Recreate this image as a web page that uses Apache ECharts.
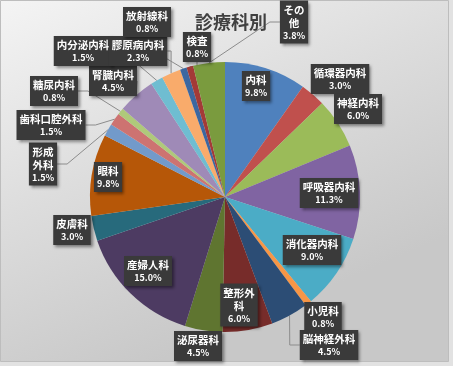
<!DOCTYPE html>
<html><head><meta charset="utf-8">
<script src="https://cdn.jsdelivr.net/npm/echarts@6/dist/echarts.min.js"></script>
<style>html,body{margin:0;padding:0;background:#e2e2e2;} #c{width:453px;height:366px;}</style>
</head><body><div id="c"></div>
<script>
// Data
const categories = ['内科','循環器内科','神経内科','呼吸器内科','消化器内科','小児科','脳神経外科','整形外科','泌尿器科','産婦人科','皮膚科','眼科','形成外科','歯科口腔外科','糖尿内科','腎臓内科','内分泌内科','膠原病内科','放射線科','検査','その他'];
const shares = [9.8,3.0,6.0,11.3,9.0,0.8,4.5,6.0,4.5,15.0,3.0,9.8,1.5,1.5,0.8,4.5,1.5,2.3,0.8,0.8,3.8];
const labelTexts = ['内科','循環器内科','神経内科','呼吸器内科','消化器内科','小児科','脳神経外科','整形外\n科','泌尿器科','産婦人科','皮膚科','眼科','形成\n外科','歯科口腔外科','糖尿内科','腎臓内科','内分泌内科','膠原病内科','放射線科','検査','その\n他'];
const titleText = '診療科別';

// Styling / layout (not data)
const sliceColors = ['#4F81BD','#C0504D','#9BBB59','#8064A2','#4BACC6','#F79646','#2C4D75','#772C2A','#5F7530','#4D3B62','#276A7C','#B65708','#729ACA','#CD7371','#AFC97A','#9F8AB7','#6FBDD1','#F9AB6B','#3C67A0','#A33A37','#7A9B3E'];
const labelPos = [[256,86],[340,79],[358,109],[329,193],[312,250],[323,317],[329,345],[239,305],[198,346],[148,271],[72,230],[108,177],[43,164],[51,125],[54,91],[113,81],[83,51],[138,51],[147,22],[197,47],[294,22]];
const leader = [false,false,false,false,false,false,true,false,false,false,false,false,true,true,true,true,true,true,true,true,true];

const chart = echarts.init(document.getElementById('c'));
const font = '"Noto Sans CJK JP", "Noto Sans", sans-serif';
chart.setOption({
  animation: false,
  graphic: [{
    type: 'rect', z: -10, silent: true,
    shape: {x: 0.5, y: 0.5, width: 448, height: 361},
    style: {
      fill: new echarts.graphic.LinearGradient(0, 0, 0.35, 1, [
        {offset: 0, color: '#f4f4f4'},
        {offset: 0.5, color: '#dddddd'},
        {offset: 1, color: '#c8c8c8'}
      ]),
      stroke: '#bdbdbd', lineWidth: 1
    }
  }],
  title: {
    text: titleText, left: 190, top: 8,
    textStyle: {fontFamily: font, fontSize: 18, fontWeight: 'bold', color: '#404040'}
  },
  series: [{
    type: 'pie',
    center: [225, 197],
    radius: 135,
    startAngle: 90,
    clockwise: true,
    avoidLabelOverlap: false,
    data: categories.map((c, i) => ({
      name: c, value: shares[i],
      itemStyle: {color: sliceColors[i]},
      labelLine: {show: leader[i]}
    })),
    itemStyle: {borderWidth: 0},
    label: {
      show: true, position: 'outside',
      formatter: p => '{n|' + labelTexts[p.dataIndex].split('\n').join('}\n{n|') + '}\n{p|' + p.value.toFixed(1) + '%}',
      backgroundColor: '#3a3a3a',
      padding: [3, 3, 2, 3],
      shadowColor: 'rgba(0,0,0,0.45)', shadowBlur: 3, shadowOffsetX: 2, shadowOffsetY: 2,
      rich: {
        n: {fontFamily: font, fontSize: 10.5, fontWeight: 'bold', color: '#ffffff', lineHeight: 13, align: 'center'},
        p: {fontFamily: font, fontSize: 9, fontWeight: 'bold', color: '#ffffff', lineHeight: 12, align: 'center'}
      }
    },
    labelLine: {show: true, length: 10, length2: 10, lineStyle: {color: '#8c8c8c', width: 1}},
    labelLayout: function (params) {
      const p = labelPos[params.dataIndex];
      return {x: p[0], y: p[1], align: 'center', verticalAlign: 'middle'};
    },
    emphasis: {disabled: true}
  }]
});
</script>
</body></html>
